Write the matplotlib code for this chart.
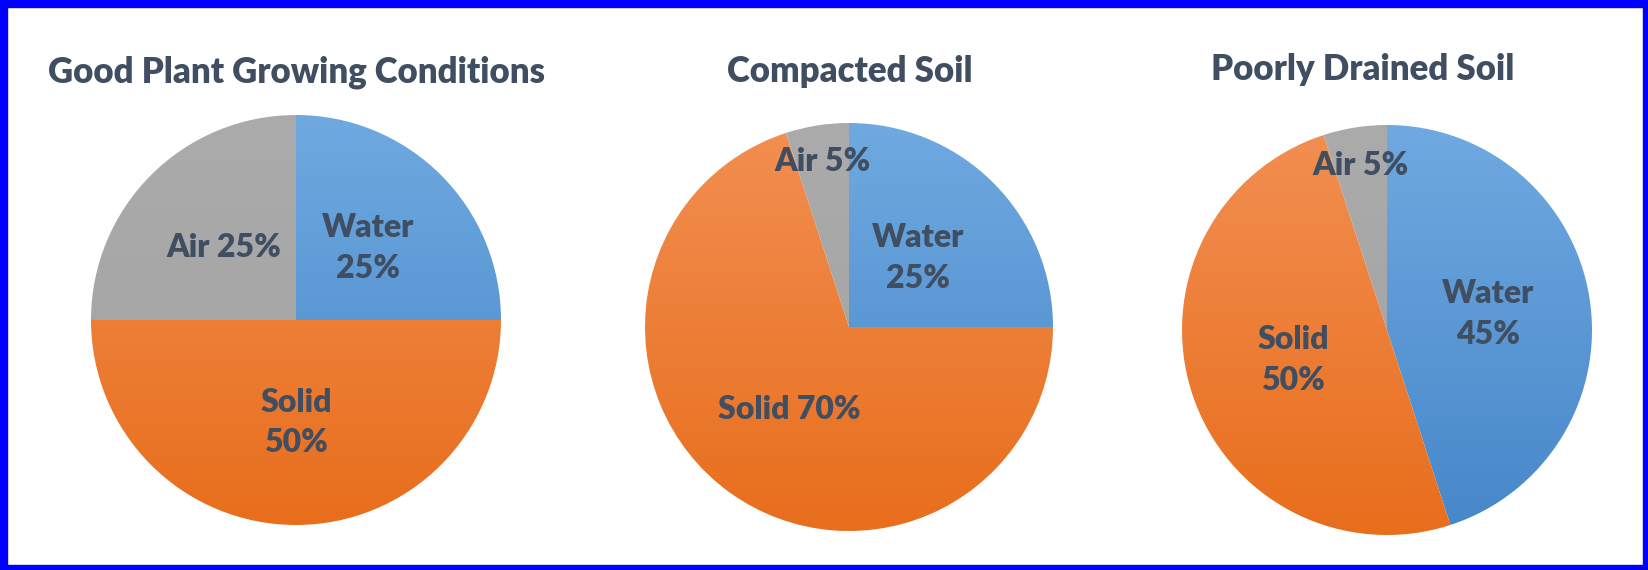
import matplotlib
matplotlib.use("Agg")
import matplotlib.pyplot as plt
import numpy as np
from matplotlib.patches import Rectangle
from matplotlib.colors import to_rgb

# ---- data ----
titles = ["Good Plant Growing Conditions", "Compacted Soil", "Poorly Drained Soil"]
categories = ["Water", "Solid", "Air"]
good_values = [25, 50, 25]
compacted_values = [25, 70, 5]
drained_values = [45, 50, 5]
label_seps = [["\n", "\n", " "], ["\n", " ", " "], ["\n", "\n", " "]]

# ---- style ----
W, H = 1648, 570
DPI = 100
pie_geom = [(296, 320, 205), (849, 327, 204), (1387, 330, 205)]  # px: cx, cy, r
title_pos = [(296, 72), (850, 72), (1363, 70)]
label_dist = [[0.5, 0.5, 0.5], [0.48, 0.5, 0.82], [0.5, 0.48, 0.81]]
grad_colors = {
    "Water": ("#6FA9E0", "#4687C9"),
    "Solid": ("#F28F52", "#E86E1C"),
    "Air": ("#ABABAB", "#A2A2A2"),
}
text_color = "#404E62"
FONT = "Lato"

fig = plt.figure(figsize=(W / DPI, H / DPI), dpi=DPI)
fig.patch.set_facecolor("white")

all_values = [good_values, compacted_values, drained_values]

for i, vals in enumerate(all_values):
    cx, cy, r = pie_geom[i]
    ax = fig.add_axes([(cx - r) / W, (H - cy - r) / H, 2 * r / W, 2 * r / H])
    wedges, _ = ax.pie(vals, startangle=90, counterclock=False, radius=1,
                       wedgeprops=dict(linewidth=0))
    ax.set_xlim(-1, 1)
    ax.set_ylim(-1, 1)
    ax.set_aspect("equal")
    ax.axis("off")
    for w, cat in zip(wedges, categories):
        top, bot = (np.array(to_rgb(c)) for c in grad_colors[cat])
        t = np.linspace(0, 1, 256)[:, None]
        img = (top[None, :] * (1 - t) + bot[None, :] * t)[:, None, :]
        img = np.repeat(img, 2, axis=1)
        w.set_facecolor("none")
        im = ax.imshow(img, extent=(-1, 1, -1, 1), origin="upper",
                       aspect="auto", zorder=w.get_zorder() - 0.1,
                       interpolation="bilinear")
        im.set_clip_path(w)
    ax.set_xlim(-1, 1)
    ax.set_ylim(-1, 1)
    for w, cat, v, sep, d in zip(wedges, categories, vals, label_seps[i], label_dist[i]):
        ang = np.deg2rad((w.theta1 + w.theta2) / 2)
        ax.text(d * np.cos(ang), d * np.sin(ang), f"{cat}{sep}{v}%",
                ha="center", va="center", fontsize=23, fontweight="heavy",
                color=text_color, family=FONT, linespacing=1.5, zorder=5)
    tx, ty = title_pos[i]
    fig.text(tx / W, 1 - ty / H, titles[i], ha="center", va="center",
             fontsize=25, fontweight="heavy", color=text_color, family=FONT)

# blue frame
blue = "#0000FF"
fig.patches.extend([
    Rectangle((0, 1 - 7 / H), 1, 7 / H, transform=fig.transFigure, color=blue, zorder=10),
    Rectangle((0, 0), 1, 5 / H, transform=fig.transFigure, color=blue, zorder=10),
    Rectangle((0, 0), 7 / W, 1, transform=fig.transFigure, color=blue, zorder=10),
    Rectangle((1 - 5 / W, 0), 5 / W, 1, transform=fig.transFigure, color=blue, zorder=10),
])

fig.savefig("out.png", dpi=DPI)
